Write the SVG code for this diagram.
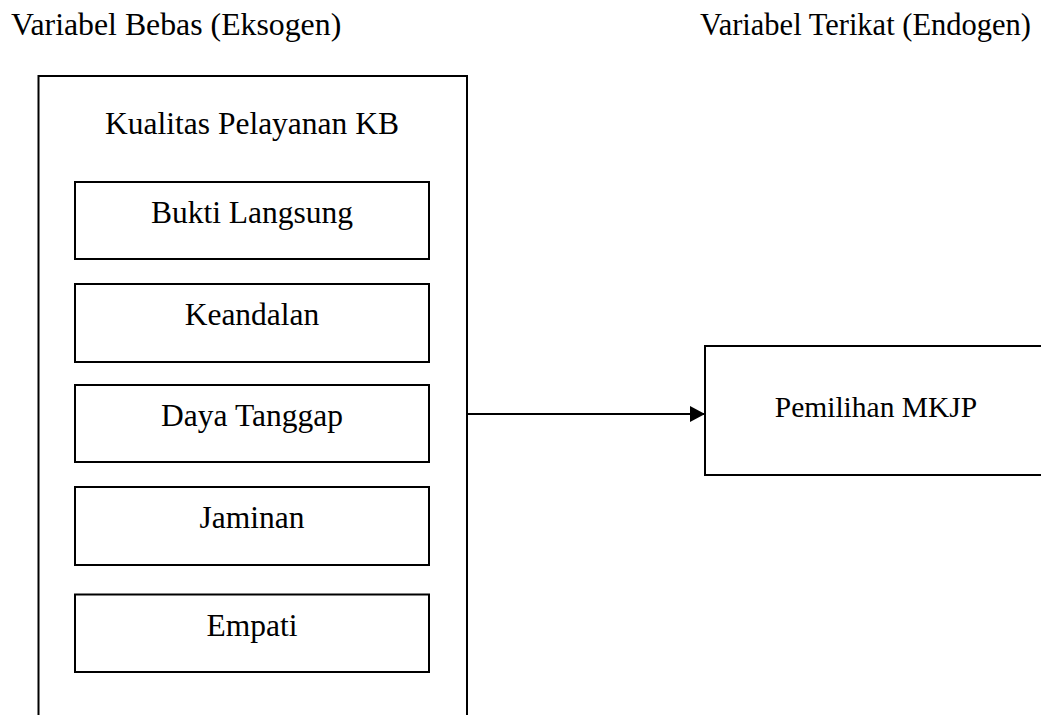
<svg xmlns="http://www.w3.org/2000/svg" width="1041" height="715" viewBox="0 0 1041 715">
  <style>
    .box { fill: #ffffff; stroke: #000000; stroke-width: 2; }
    .t { font-family: "Liberation Serif", "Times New Roman", serif; fill: #000000; text-anchor: middle; }
    .h { font-family: "Liberation Serif", "Times New Roman", serif; fill: #000000; }
    .lbl { font-size: 31.5px; }
    .conn { stroke: #000000; stroke-width: 2; fill: none; }
  </style>
  <defs>
    <marker id="arrow" markerWidth="15" markerHeight="16" refX="15" refY="8" orient="auto" markerUnits="userSpaceOnUse">
      <path d="M0,0 L15,8 L0,16 Z" fill="#000000"/>
    </marker>
  </defs>
  <rect width="1041" height="715" fill="#ffffff"/>
  <text class="h" style="font-size:31.8px" x="11" y="35">Variabel Bebas (Eksogen)</text>
  <text class="h" style="font-size:30.5px; text-anchor:end" x="1031" y="35">Variabel Terikat (Endogen)</text>

  <g id="kualitas">
    <rect class="box" x="38.5" y="76" width="428.5" height="660"/>
    <text class="t lbl" x="252" y="134">Kualitas Pelayanan KB</text>
  </g>
  <g id="bukti">
    <rect class="box" x="75" y="182" width="354" height="77"/>
    <text class="t lbl" x="252" y="223">Bukti Langsung</text>
  </g>
  <g id="keandalan">
    <rect class="box" x="75" y="284" width="354" height="78"/>
    <text class="t lbl" x="252" y="325">Keandalan</text>
  </g>
  <g id="daya">
    <rect class="box" x="75" y="385" width="354" height="77"/>
    <text class="t lbl" x="252" y="426">Daya Tanggap</text>
  </g>
  <g id="jaminan">
    <rect class="box" x="75" y="487" width="354" height="78"/>
    <text class="t lbl" x="252" y="528">Jaminan</text>
  </g>
  <g id="empati">
    <rect class="box" x="75" y="594.5" width="354" height="77.5"/>
    <text class="t lbl" x="252" y="636">Empati</text>
  </g>
  <g id="pemilihan">
    <rect class="box" x="705" y="346" width="360" height="129"/>
    <text class="t" style="font-size:29.5px" x="876" y="417">Pemilihan MKJP</text>
  </g>
  <g id="connectors">
    <line class="conn" x1="467" y1="414" x2="705" y2="414" marker-end="url(#arrow)"/>
  </g>
</svg>
